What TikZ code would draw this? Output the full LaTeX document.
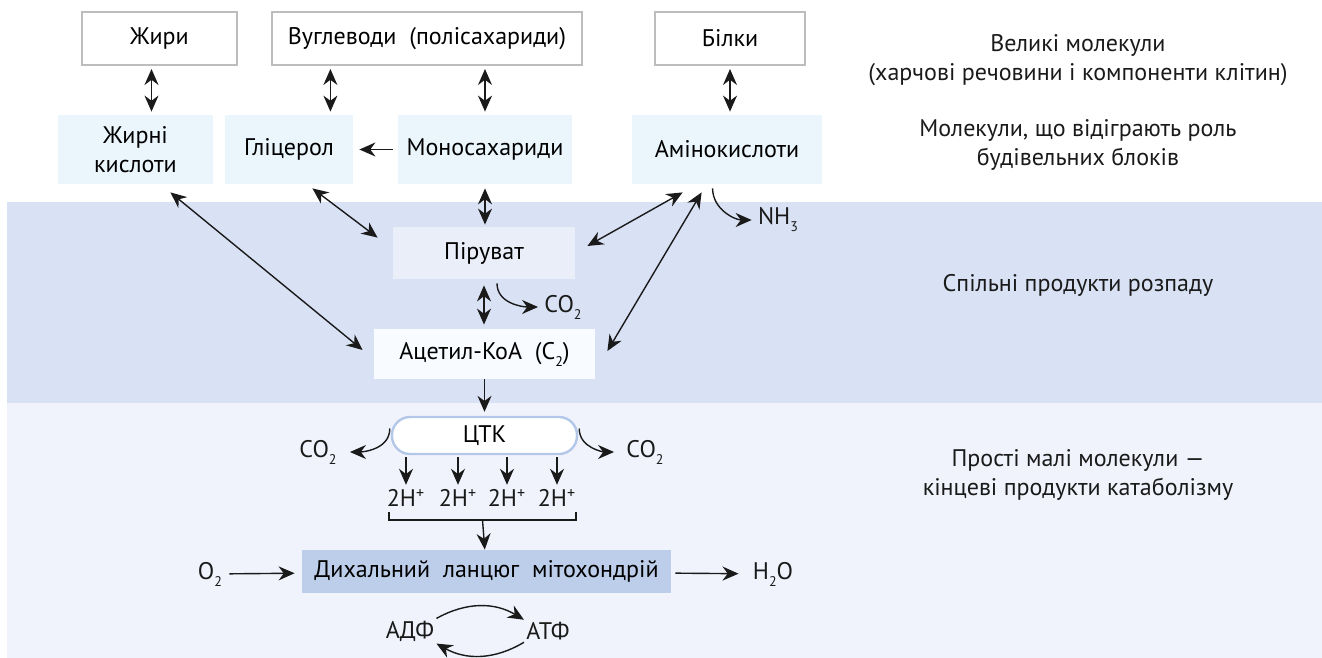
\documentclass[tikz,border=0pt]{standalone}
\usepackage{fontspec}
\setmainfont{PT Sans}
\usetikzlibrary{arrows.meta, positioning, calc, backgrounds}

\definecolor{bandmid}{HTML}{D9E2F4}
\definecolor{bandlow}{HTML}{F0F3FC}
\definecolor{blockfill}{HTML}{EAF5FC}
\definecolor{pyrfill}{HTML}{E9EEF9}
\definecolor{acfill}{HTML}{F8FBFF}
\definecolor{tcaline}{HTML}{B3C8E8}
\definecolor{respfill}{HTML}{BCCEEA}
\definecolor{ink}{HTML}{1A1A1A}
\definecolor{frame}{HTML}{BDBDBD}

\newcommand{\lowsub}[1]{\raisebox{-3.5pt}{\scriptsize #1}}

\begin{document}
\begin{tikzpicture}[
    x=0.5pt, y=-0.5pt,
    font=\fontsize{12}{14.5}\selectfont,
    big/.style={rectangle, draw=frame, line width=1pt, fill=white, minimum height=26.5pt, inner sep=0pt},
    block/.style={rectangle, fill=blockfill, minimum height=34.5pt, inner sep=0pt, align=center},
    mid/.style={rectangle, minimum height=25pt, inner sep=0pt},
    lbl/.style={inner sep=1pt, text=ink},
    side/.style={align=center, text=ink},
    tip/.style={Stealth[length=8pt, width=7pt, inset=2.6pt]},
    arrow/.style={-{Stealth[length=8pt, width=7pt, inset=2.6pt]}, line width=0.7pt, draw=ink},
    dbl/.style={{Stealth[length=8pt, width=7pt, inset=2.6pt]}-{Stealth[length=8pt, width=7pt, inset=2.6pt]}, line width=0.7pt, draw=ink}
]
\useasboundingbox (0,0) rectangle (1322,658);

% Background bands
\fill[bandmid] (7,202) rectangle (1322,403);
\fill[bandlow] (7,403) rectangle (1322,658);

% Large molecules
\node[big, minimum width=77.5pt] (fats)  at (159.5,38.5) {Жири};
\node[big, minimum width=155pt]  (carbs) at (427,38.5)   {Вуглеводи~ (полісахариди)};
\node[big, minimum width=75pt]   (prot)  at (730,38.5)   {Білки};

% Building blocks
\node[block, minimum width=77.5pt] (fatacid) at (135.5,149.5) {Жирні\\кислоти};
\node[block, minimum width=64pt]   (glyc)    at (289,149.5)   {Гліцерол};
\node[block, minimum width=87pt]   (mono)    at (485,149.5)   {Моносахариди};
\node[block, minimum width=95pt]   (amino)   at (727,149.5)   {Амінокислоти};

% Common breakdown products
\node[mid, fill=pyrfill, minimum width=91pt, minimum height=26pt] (pyr) at (484,253) {Піруват};
\node[mid, fill=acfill, minimum width=110.5pt] (acetyl) at (484.5,354) {Ацетил-КоА~ (C\lowsub{2})};

% Krebs cycle and respiration
\node[rectangle, rounded corners=9pt, draw=tcaline, line width=1.2pt, fill=white,
      minimum width=92.5pt, minimum height=18.5pt, inner sep=0pt] (tca) at (484.5,435.5) {ЦТК};
\node[rectangle, fill=respfill, minimum width=184.5pt, minimum height=21.5pt, inner sep=0pt] (resp) at (486.5,571.5) {Дихальний~ ланцюг~ мітохондрій};

% Small products
\node[lbl] (co2p) at (563,307) {CO\lowsub{2}};
\node[lbl] (nh3)  at (778,220) {NH\lowsub{3}};
\node[lbl] (co2l) at (318,452) {CO\lowsub{2}};
\node[lbl] (co2r) at (645,452) {CO\lowsub{2}};
\node[lbl] (h1) at (406,498) {2H\textsuperscript{+}};
\node[lbl] (h2) at (458,498) {2H\textsuperscript{+}};
\node[lbl] (h3) at (507,498) {2H\textsuperscript{+}};
\node[lbl] (h4) at (557,498) {2H\textsuperscript{+}};
\node[lbl] (o2)  at (210,574) {O\lowsub{2}};
\node[lbl] (h2o) at (773,574) {H\lowsub{2}O};
\node[lbl] (adp) at (410,631) {АДФ};
\node[lbl] (atp) at (548,631) {АТФ};

% Level captions
\node[side] (capbig)   at (1078,60)  {Великі молекули\\(харчові речовини і компоненти клітин)};
\node[side] (capblock) at (1078,145) {Молекули, що відіграють роль\\будівельних блоків};
\node[side] (capcomm)  at (1078,285) {Спільні продукти розпаду};
\node[side] (capend)   at (1078,475) {Прості малі молекули —\\кінцеві продукти катаболізму};

% Polymers <-> monomers
\draw[dbl, shorten <=1.5pt, shorten >=1.5pt] ([xshift=-4pt]fats.south) -- ([xshift=-4pt]fats.south |- fatacid.north);
\draw[dbl, shorten <=1.5pt, shorten >=1.5pt] ([xshift=-11.5pt]glyc.north east |- carbs.south) -- ([xshift=-11.5pt]glyc.north east);
\draw[dbl, shorten <=1.5pt, shorten >=1.5pt] (mono.north |- carbs.south) -- (mono.north);
\draw[dbl, shorten <=1.5pt, shorten >=1.5pt] (prot.south) -- (prot.south |- amino.north);
\draw[arrow, shorten <=2.5pt, shorten >=3pt] (mono.west) -- (glyc.east);

% Monomers <-> common products
\draw[dbl] ([shift={(-43,8)}]fatacid.south east) -- ([shift={(-11,-4)}]acetyl.west);
\draw[dbl] ([shift={(-41,4)}]glyc.south east) -- ([shift={(-15,11)}]pyr.north west);
\draw[dbl, shorten <=2pt, shorten >=1pt] (mono.south) -- (mono.south |- pyr.north);
\draw[dbl] ([shift={(51,8)}]amino.south west) -- ([shift={(12,-7)}]pyr.east);
\draw[dbl] ([shift={(70,8)}]amino.south west) -- ([shift={(12,-3)}]acetyl.east);
\draw[arrow, shorten >=2pt] ([shift={(81,4)}]amino.south west) to[out=-90, in=180] (nh3.west);
\draw[dbl, shorten <=3pt, shorten >=2pt] (pyr.south) -- (pyr.south |- acetyl.north);
\draw[arrow, shorten >=2pt] ([shift={(13,4)}]pyr.south) to[out=-90, in=180] (co2p.west);

% Citric acid cycle
\draw[arrow, shorten >=2pt] (acetyl) -- (tca);
\draw[arrow, shorten >=5.5pt] ([shift={(-1,-7)}]tca.west) to[out=-90, in=0] (co2l.east);
\draw[arrow, shorten >=5pt] ([shift={(1,-7)}]tca.east) to[out=-90, in=180] (co2r.west);
\foreach \i in {1,2,3,4}
  \draw[arrow, shorten <=1pt, shorten >=1pt] (h\i |- tca.south) -- (h\i.north);

% Bracket to respiratory chain
\coordinate (brl) at (389,520);
\coordinate (brr) at (576,520);
\draw[line width=0.7pt, ink] (brl) ++(0,-8) -- (brl) -- (brr) -- ++(0,-8);
\draw[arrow] ($(brl)!.5!(brr)$) -- (resp);

% Oxygen, water, ATP
\draw[arrow, shorten <=2.5pt, shorten >=3.5pt] (o2) -- (resp);
\draw[arrow, shorten <=2pt, shorten >=6pt] (resp) -- (h2o);
\draw[arrow] (adp.north east) to[bend left=30] (atp.north west);
\draw[arrow] (atp.south west) to[bend left=30] (adp.south east);

\end{tikzpicture}
\end{document}
